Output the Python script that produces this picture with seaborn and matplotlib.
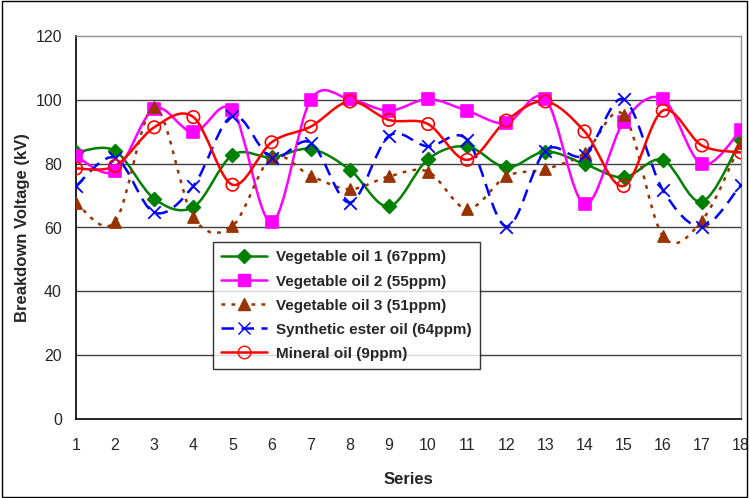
import numpy as np
import pandas as pd
import matplotlib
matplotlib.use("Agg")
import matplotlib.pyplot as plt
import seaborn as sns
from matplotlib.path import Path
from matplotlib.patches import PathPatch, Rectangle
from matplotlib.lines import Line2D

# data
series = list(range(1, 19))
veg_oil_1 = [83.5, 84, 69, 66.4, 82.7, 82, 84.6, 78.1, 66.6, 81.4, 85.4, 78.8, 83.8, 79.9, 75.7, 81.2, 68.1, 87.5]
veg_oil_2 = [82.4, 77.6, 97.2, 89.8, 96.8, 61.7, 100, 100.2, 96.6, 100.2, 96.6, 92.7, 100.3, 67.3, 93.1, 100.3, 79.8, 90.6]
veg_oil_3 = [67.6, 61.8, 97.7, 63.2, 60.5, 82, 76.2, 72, 76, 77.5, 65.8, 76, 78.3, 83.3, 95.3, 57.4, 62.1, 86.6]
ester_oil = [73, 81.9, 64.7, 73, 95, 81.8, 86.6, 67.8, 88.7, 85.4, 87.5, 60.3, 84.1, 82.7, 100.2, 71.8, 60.3, 73.4]
mineral_oil = [78.5, 79.3, 91.4, 94.6, 73.4, 86.7, 91.6, 99.5, 93.7, 92.4, 81.2, 93.5, 99.5, 90.1, 73, 96.6, 85.7, 83.5]

labels = ["Vegetable oil 1 (67ppm)", "Vegetable oil 2 (55ppm)", "Vegetable oil 3 (51ppm)",
          "Synthetic ester oil (64ppm)", "Mineral oil (9ppm)"]
values = [veg_oil_1, veg_oil_2, veg_oil_3, ester_oil, mineral_oil]

styles = [
    dict(color="#008000", marker="D", ms=7, mfc="#008000", mec="#008000", ls="-"),
    dict(color="#FF00FF", marker="s", ms=8, mfc="#FF00FF", mec="#FF00FF", ls="-"),
    dict(color="#993300", marker="^", ms=8, mfc="#993300", mec="#993300", ls=(0, (1.5, 2.5))),
    dict(color="#0000FF", marker="x", ms=9, mfc="none", mec="#0000FF", ls=(0, (5, 3))),
    dict(color="#FF0000", marker="o", ms=9, mfc="none", mec="#FF0000", ls="-"),
]

rows = []
for lab, vals in zip(labels, values):
    for s, v in zip(series, vals):
        rows.append({"Series": s, "kV": v, "Oil": lab})
df = pd.DataFrame(rows)


def smooth_path(x, y):
    # Excel-like smoothed line: cubic Bezier through the points (Catmull-Rom control points)
    pts = np.column_stack([x, y]).astype(float)
    ext = np.vstack([pts[0], pts, pts[-1]])
    verts = [pts[0]]
    codes = [Path.MOVETO]
    for i in range(len(pts) - 1):
        p0, p1, p2, p3 = ext[i], ext[i + 1], ext[i + 2], ext[i + 3]
        verts += [p1 + (p2 - p0) / 6, p2 - (p3 - p1) / 6, p2]
        codes += [Path.CURVE4] * 3
    return Path(verts, codes)


sns.set_style("white")
plt.rcParams["font.family"] = ["Liberation Sans", "DejaVu Sans"]

fig = plt.figure(figsize=(7.49, 4.98), dpi=100)
ax = fig.add_axes([76 / 749, 1 - 419 / 498, 665 / 749, 383 / 498])

for y in range(20, 101, 20):
    ax.axhline(y, color="#404040", lw=1, zorder=1)

handles = []
for lab, st in zip(labels, styles):
    sub = df[df["Oil"] == lab]
    patch = PathPatch(smooth_path(sub["Series"], sub["kV"]), facecolor="none",
                      edgecolor=st["color"], lw=1.8, linestyle=st["ls"], zorder=3)
    ax.add_patch(patch)
    sns.scatterplot(data=sub, x="Series", y="kV", ax=ax, marker=st["marker"],
                    s=st["ms"] ** 2, color=st["mfc"] if st["mfc"] != "none" else "none",
                    edgecolor=st["mec"], linewidth=1.2 if st["marker"] != "x" else 1.3,
                    zorder=4, legend=False)
    if st["marker"] == "x":
        ax.collections[-1].set_color(st["mec"])
    handles.append(Line2D([], [], color=st["color"], lw=1.8, ls=st["ls"], marker=st["marker"],
                          ms=st["ms"], mfc=st["mfc"], mec=st["mec"]))

ax.set_xlim(1, 18)
ax.set_ylim(0, 120)
ax.set_xticks(series)
ax.set_yticks(range(0, 121, 20))
ax.tick_params(axis="x", direction="out", length=3.6, width=1, color="black",
               labelsize=11.5, pad=10)
ax.tick_params(axis="y", direction="inout", length=5.3, width=1, color="black",
               labelsize=11.5, pad=7.5)
for side in ["left", "bottom"]:
    ax.spines[side].set_color("black")
    ax.spines[side].set_linewidth(1.2)
for side in ["top", "right"]:
    ax.spines[side].set_color("#909090")
    ax.spines[side].set_linewidth(1)

ax.set_xlabel("Series", fontsize=12, fontweight="bold", labelpad=14)
ax.set_ylabel("Breakdown Voltage (kV)", fontsize=12, fontweight="bold", labelpad=4)

leg = ax.legend(handles, labels, loc="upper left", bbox_to_anchor=(0.206, 0.462),
                borderaxespad=0, frameon=True, fancybox=False,
                prop={"weight": "bold", "size": 11}, handlelength=3.0,
                labelspacing=0.66, borderpad=0.55, handletextpad=0.6)
leg.get_frame().set_edgecolor("black")
leg.get_frame().set_linewidth(1)
leg.set_zorder(10)

fig.patches.append(Rectangle((0.003, 0.003), 0.994, 0.994, transform=fig.transFigure,
                             fill=False, edgecolor="black", lw=1))

fig.savefig("out.png", dpi=100)
